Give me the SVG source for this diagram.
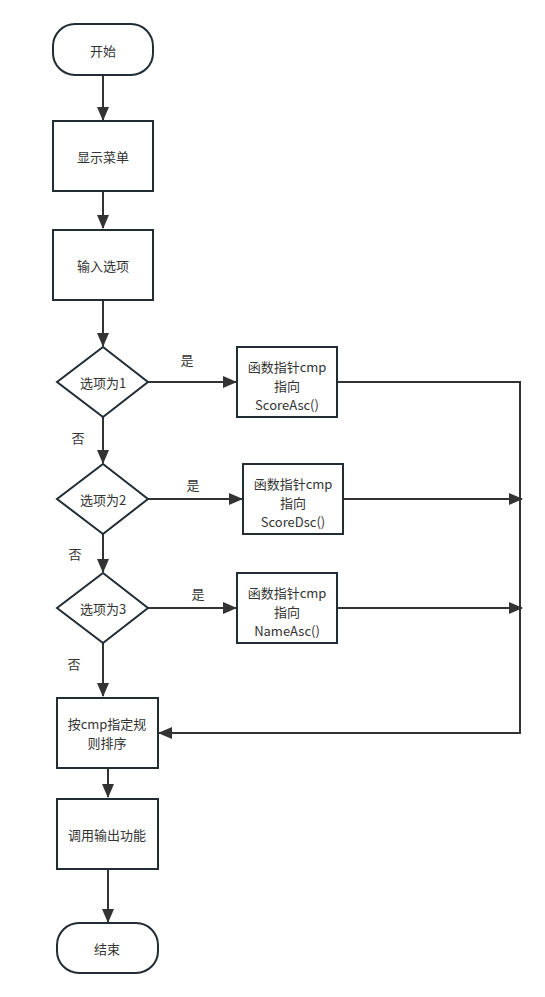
<svg xmlns="http://www.w3.org/2000/svg" width="545" height="997" viewBox="0 0 545 997">
<style>
.n{fill:#fff;stroke:#222c33;stroke-width:2}
.c{fill:none;stroke:#333;stroke-width:2}
text{font-family:"Microsoft YaHei","Noto Sans CJK SC","Noto Sans",sans-serif;font-size:13px;fill:#333;text-anchor:middle;dominant-baseline:central}
</style>
<defs>
<marker id="a" markerUnits="userSpaceOnUse" markerWidth="14" markerHeight="12" refX="13" refY="6" orient="auto">
<path d="M0,0 L14,6 L0,12 Z" fill="#333"/>
</marker>
</defs>
<rect width="545" height="997" fill="#fff"/>
<g id="connectors">
<path class="c" d="M103,75 V120" marker-end="url(#a)"/>
<path class="c" d="M103,191 V228" marker-end="url(#a)"/>
<path class="c" d="M103,300 V346" marker-end="url(#a)"/>
<path class="c" d="M148,382 H236" marker-end="url(#a)"/>
<path class="c" d="M103,417 V463" marker-end="url(#a)"/>
<path class="c" d="M148,499 H242" marker-end="url(#a)"/>
<path class="c" d="M103,534 V572" marker-end="url(#a)"/>
<path class="c" d="M148,608 H236" marker-end="url(#a)"/>
<path class="c" d="M103,643 V696" marker-end="url(#a)"/>
<path class="c" d="M337,382 H520 V733 H159" marker-end="url(#a)"/>
<path class="c" d="M343,499 H522" marker-end="url(#a)"/>
<path class="c" d="M337,608 H522" marker-end="url(#a)"/>
<path class="c" d="M108,768 V797" marker-end="url(#a)"/>
<path class="c" d="M108,869 V922" marker-end="url(#a)"/>
<text x="187" y="359">是</text>
<text x="193" y="484">是</text>
<text x="198" y="593">是</text>
<text x="78" y="437">否</text>
<text x="75" y="553">否</text>
<text x="74" y="663">否</text>
</g>
<g id="start"><rect class="n" x="53" y="24" width="100" height="51" rx="22"/><text x="103" y="50">开始</text></g>
<g id="menu"><rect class="n" x="53" y="121" width="100" height="70"/><text x="103" y="156">显示菜单</text></g>
<g id="input"><rect class="n" x="53" y="230" width="100" height="70"/><text x="103" y="265">输入选项</text></g>
<g id="d1"><path class="n" d="M103,347 L148,382 L103,417 L57,382 Z"/><text x="103" y="382">选项为1</text></g>
<g id="b1"><rect class="n" x="237" y="347" width="100" height="70"/><text x="287" y="366">函数指针cmp</text><text x="287" y="385">指向</text><text x="287" y="404">ScoreAsc()</text></g>
<g id="d2"><path class="n" d="M103,464 L148,499 L103,534 L57,499 Z"/><text x="103" y="499">选项为2</text></g>
<g id="b2"><rect class="n" x="243" y="464" width="100" height="70"/><text x="293" y="483">函数指针cmp</text><text x="293" y="502">指向</text><text x="293" y="521">ScoreDsc()</text></g>
<g id="d3"><path class="n" d="M103,573 L148,608 L103,643 L57,608 Z"/><text x="103" y="608">选项为3</text></g>
<g id="b3"><rect class="n" x="237" y="573" width="100" height="70"/><text x="287" y="592">函数指针cmp</text><text x="287" y="611">指向</text><text x="287" y="630">NameAsc()</text></g>
<g id="sort"><rect class="n" x="57" y="698" width="101" height="70"/><text x="107" y="723">按cmp指定规</text><text x="107" y="742">则排序</text></g>
<g id="output"><rect class="n" x="57" y="799" width="101" height="70"/><text x="107" y="834">调用输出功能</text></g>
<g id="end"><rect class="n" x="57" y="923" width="101" height="50" rx="22"/><text x="107" y="948">结束</text></g>
</svg>
